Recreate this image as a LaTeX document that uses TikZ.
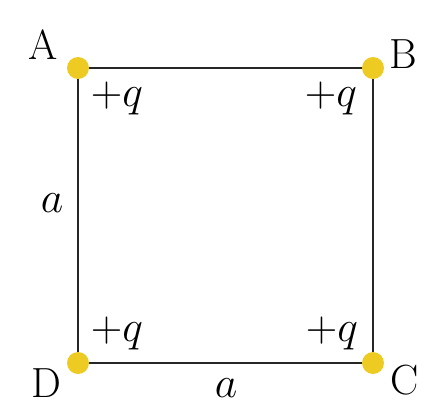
\documentclass[tikz,border=0pt]{standalone}
\begin{document}
\begin{tikzpicture}[x=0.02cm,y=-0.02cm,
  lbl/.style={font=\fontsize{24}{28}\selectfont, inner sep=0pt},
  charge/.style={circle, fill=dotyellow, minimum size=22*0.02cm, inner sep=0pt},
  edge/.style={line width=0.6pt, black!85}]
\definecolor{dotyellow}{HTML}{EDCB23}
\useasboundingbox (0,0) rectangle (444,420);
\coordinate (A) at (78,68);
\coordinate (B) at (373,68);
\coordinate (C) at (373,363);
\coordinate (D) at (78,363);
\draw[edge] (A) -- (B) -- (C) -- (D) -- cycle;
\node[charge] (dA) at (A) {};
\node[charge] (dB) at (B) {};
\node[charge] (dC) at (C) {};
\node[charge] (dD) at (D) {};
\node[lbl] (lA) at (43,45) {A};
\node[lbl] (lB) at (403,54) {B};
\node[lbl] (lC) at (405,380) {C};
\node[lbl] (lD) at (46,383) {D};
\node[lbl] (qA) at (117,98) {$+q$};
\node[lbl] (qB) at (331,98) {$+q$};
\node[lbl] (qC) at (332,333) {$+q$};
\node[lbl] (qD) at (117,333) {$+q$};
\node[lbl] (aL) at (52,203) {$a$};
\node[lbl] (aB) at (226,388) {$a$};
\end{tikzpicture}
\end{document}
